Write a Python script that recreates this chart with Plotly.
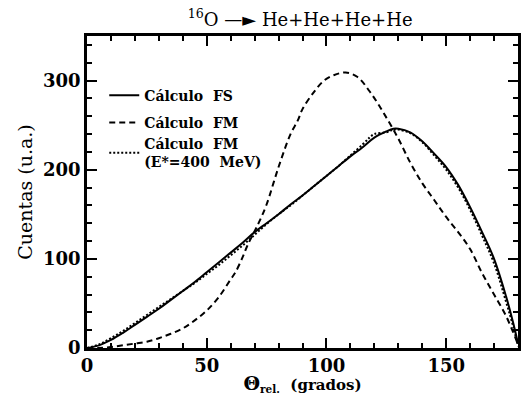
import plotly.graph_objects as go

# Angle (degrees) and counts (arb. units)
x_fs = [0, 5, 10, 15, 20, 25, 30, 35, 40, 45, 50, 55, 60, 65, 70, 75, 80, 85, 90, 95,
        100, 105, 110, 115, 120, 125, 128, 130, 135, 140, 145, 150, 155, 160, 165,
        170, 175, 178, 180]
y_fs = [0, 3, 9, 17, 26, 35, 44, 54, 64, 74, 85, 96, 107, 118, 130, 140, 150, 161, 171,
        182, 193, 204, 215, 225, 236, 243, 246, 246, 242, 232, 218, 203, 183, 158,
        130, 100, 58, 28, 5]

x_fm = [0, 5, 10, 15, 20, 25, 30, 35, 40, 45, 50, 55, 60, 62, 65, 67, 70, 72, 75, 80,
        85, 88, 90, 95, 99, 103, 108, 113, 118, 122, 126, 130, 135, 140, 145, 150,
        155, 160, 165, 170, 175, 180]
y_fm = [0, 0, 1, 3, 5, 7, 11, 16, 22, 31, 42, 57, 77, 85, 102, 115, 131, 142, 161, 203,
        240, 255, 268, 288, 300, 306, 309, 304, 288, 272, 254, 235, 208, 185, 166, 147,
        130, 111, 84, 60, 36, 4]

x_fm400 = [0, 5, 10, 15, 20, 25, 30, 35, 40, 45, 50, 55, 60, 65, 70, 75, 80, 85, 90,
           95, 100, 105, 110, 115, 118, 120, 125, 128, 130, 135, 140, 145, 150, 155,
           160, 165, 170, 175, 178, 180]
y_fm400 = [0, 4, 11, 19, 28, 37, 46, 55, 64, 73, 83, 93, 104, 115, 127, 139, 150, 160,
           171, 182, 193, 204, 216, 228, 236, 240, 242, 245, 245, 241, 231, 216, 200,
           180, 155, 126, 95, 52, 24, 2]

names = ["Cálculo  FS", "Cálculo  FM", "Cálculo  FM<br>(E*=400  MeV)"]
x_ticks = [0, 50, 100, 150]
y_ticks = [0, 100, 200, 300]

SERIF = "DejaVu Serif"

fig = go.Figure()
fig.add_trace(go.Scatter(x=x_fs, y=y_fs, mode="lines", name=names[0], legendgroup="a",
                         line=dict(color="black", width=2, shape="spline")))
fig.add_trace(go.Scatter(x=x_fm, y=y_fm, mode="lines", name=names[1], legendgroup="b",
                         line=dict(color="black", width=2, dash="6px,4px", shape="spline")))
fig.add_trace(go.Scatter(x=x_fm400, y=y_fm400, mode="lines", name=names[2], legendgroup="b",
                         line=dict(color="black", width=2, dash="2px,2px", shape="spline")))

axis_common = dict(
    showline=True, linewidth=2.5, linecolor="black", mirror="ticks",
    ticks="inside", ticklen=10, tickwidth=2, tickcolor="black",
    showgrid=False, zeroline=False,
    tickfont=dict(family=SERIF, size=18, color="black", weight="bold"),
)

fig.update_xaxes(range=[0, 180], tickvals=x_ticks, **axis_common,
                 minor=dict(ticks="inside", ticklen=5, tickwidth=1.5, dtick=10,
                            tickcolor="black", showgrid=False),
                 title=dict(text="<span style='font-size:19px'>Θ</span><sub>rel.</sub>  (grados)",
                            standoff=2,
                            font=dict(family=SERIF, size=15, color="black", weight="bold")))
fig.update_yaxes(range=[0, 350], tickvals=y_ticks, **axis_common,
                 minor=dict(ticks="inside", ticklen=5, tickwidth=1.5, dtick=20,
                            tickcolor="black", showgrid=False),
                 title=dict(text="Cuentas (u.a.)", standoff=6,
                            font=dict(family=SERIF, size=19, color="black")))

fig.update_layout(
    width=523, height=395,
    margin=dict(l=87, r=2, t=36, b=47),
    paper_bgcolor="white", plot_bgcolor="white",
    title=dict(text="<sup>16</sup>O —► He+He+He+He", x=0.574, xanchor="center",
               y=0.95, yanchor="middle",
               font=dict(family=SERIF, size=18, color="black")),
    legend=dict(x=0.04, y=0.86, xanchor="left", yanchor="top",
                bgcolor="rgba(0,0,0,0)", tracegroupgap=6, itemwidth=30,
                font=dict(family=SERIF, size=14, color="black", weight="bold")),
)

fig.write_html("out.html")
